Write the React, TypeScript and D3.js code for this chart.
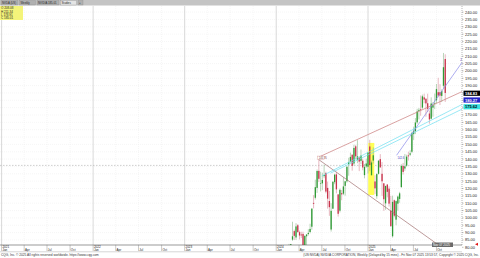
import React from "react";
import * as d3 from "d3";

// Weekly OHLC (week start Monday)
const weeks = [
  "2024-02-05","2024-02-12","2024-02-19","2024-02-26","2024-03-04","2024-03-11","2024-03-18","2024-03-25",
  "2024-04-01","2024-04-08","2024-04-15","2024-04-22","2024-04-29","2024-05-06","2024-05-13","2024-05-20",
  "2024-05-27","2024-06-03","2024-06-10","2024-06-17","2024-06-24","2024-07-01","2024-07-08","2024-07-15",
  "2024-07-22","2024-07-29","2024-08-05","2024-08-12","2024-08-19","2024-08-26","2024-09-02","2024-09-09",
  "2024-09-16","2024-09-23","2024-09-30","2024-10-07","2024-10-14","2024-10-21","2024-10-28","2024-11-04",
  "2024-11-11","2024-11-18","2024-11-25","2024-12-02","2024-12-09","2024-12-16","2024-12-23","2024-12-30",
  "2025-01-06","2025-01-13","2025-01-20","2025-01-27","2025-02-03","2025-02-10","2025-02-17","2025-02-24",
  "2025-03-03","2025-03-10","2025-03-17","2025-03-24","2025-03-31","2025-04-07","2025-04-14","2025-04-21",
  "2025-04-28","2025-05-05","2025-05-12","2025-05-19","2025-05-26","2025-06-02","2025-06-09","2025-06-16",
  "2025-06-23","2025-06-30","2025-07-07","2025-07-14","2025-07-21","2025-07-28","2025-08-04","2025-08-11",
  "2025-08-18","2025-08-25","2025-09-01","2025-09-08","2025-09-15","2025-09-22","2025-09-29","2025-10-06",
  "2025-10-13","2025-10-20","2025-10-27","2025-11-03"
];
const opens = [68.2,72.6,71.9,79.7,85.2,91.0,86.7,95.0,90.3,88.7,89.1,78.1,87.5,89.0,90.4,94.0,110.2,113.7,120.4,132.0,123.2,123.5,128.4,130.6,120.4,111.5,92.1,106.3,124.3,129.6,116.0,104.9,116.8,116.5,121.8,124.9,136.5,138.1,143.0,137.0,148.7,139.5,141.0,138.8,138.9,129.1,135.0,134.8,148.6,129.0,139.0,124.8,114.8,130.0,140.0,130.0,123.5,109.9,122.7,119.9,105.0,87.5,112.0,98.8,109.7,112.9,121.0,135.3,133.6,135.5,142.5,143.0,145.0,157.0,159.0,165.0,172.8,174.0,175.0,182.0,181.0,178.0,171.0,167.5,175.0,178.2,180.0,185.5,185.5,183.0,189.9,208.1];
const highs = [72.1,74.0,82.3,82.3,97.4,92.0,96.4,95.8,91.3,90.6,90.6,88.3,89.0,92.3,96.0,106.5,115.5,126.0,132.9,140.8,131.4,130.7,136.2,131.4,124.7,118.3,110.0,124.9,130.0,131.3,116.0,120.0,119.0,127.7,125.0,135.0,140.9,144.4,143.1,149.8,149.7,152.9,141.6,146.5,140.3,136.7,140.3,144.9,153.1,139.0,148.0,129.0,130.4,139.3,143.4,138.0,123.7,122.0,122.9,121.5,115.0,115.1,112.5,111.9,115.2,117.7,136.5,137.4,143.5,143.0,145.0,146.0,158.7,162.0,167.9,174.2,174.8,183.3,183.9,184.5,181.5,184.5,173.0,182.0,178.9,184.6,191.1,195.3,191.0,187.5,212.2,211.3];
const lows = [68.2,70.5,66.2,77.2,84.4,85.0,85.0,89.8,85.3,86.3,75.6,77.0,81.2,88.0,89.5,92.0,106.5,112.5,117.0,124.4,118.0,118.9,127.0,116.7,106.3,101.4,90.7,106.0,122.9,116.7,100.9,103.7,112.0,115.5,115.1,124.0,128.7,137.5,132.1,135.6,139.8,137.2,131.8,136.6,132.4,126.9,134.0,130.2,131.8,129.0,137.0,116.3,113.0,129.5,134.0,115.0,104.8,105.5,114.0,107.7,94.3,86.6,100.5,95.0,104.9,110.3,120.3,129.5,132.0,134.8,139.0,142.0,144.0,153.0,157.0,164.0,167.0,169.5,174.0,178.0,168.8,172.0,164.1,167.0,168.8,174.0,178.0,182.0,176.8,178.8,188.0,178.9];
const closes = [72.1,72.6,78.9,82.2,87.5,87.8,94.2,90.4,88.0,88.1,76.2,87.7,88.7,89.8,92.5,106.3,109.6,120.9,131.9,126.6,123.5,125.8,129.2,117.9,113.1,107.3,104.8,124.6,129.4,119.4,102.8,119.1,116.0,121.4,124.9,134.8,138.0,141.5,135.4,147.6,141.9,141.9,138.3,142.4,134.3,134.7,137.0,144.5,135.9,137.7,142.6,120.1,129.8,138.9,134.4,124.9,112.7,121.7,117.7,109.7,94.3,110.9,101.5,111.4,114.5,116.7,135.4,131.3,135.1,141.7,141.9,143.9,157.8,159.3,164.9,172.4,173.5,173.7,182.7,180.5,177.9,174.2,167.0,177.8,176.7,178.2,187.6,183.2,183.2,186.3,202.5,185.0];

const priceTicks = d3.range(240, 79, -5);
const quarterLabels = ["Jan", "Apr", "Jul", "Oct"];

// trendlines: [date, price] pairs
const redUpper = [["2024-06-19", 141.4], ["2026-01-16", 186.3]];
const redLower = [["2024-06-19", 139.6], ["2025-10-22", 80.0]];
const cyanA = [["2024-07-01", 128.5], ["2026-01-16", 177.6]];
const cyanB = [["2024-08-05", 130.5], ["2026-01-16", 174.4]];
const blueLine = [["2025-04-25", 142.6], ["2026-01-16", 207.0]];
const highlight = [["2025-01-02", 151.0], ["2025-01-26", 115.6]];
const dashedLevel = 135.7;

const ohlcBox = ["O 208.08", "H 211.34", "L 178.91", "C 185.01"];
const axisFlags = [
  { v: 184.8, text: "184.83", bg: "#000000", fg: "#ffffff" },
  { v: 180.2, text: "180.27", bg: "#2424c8", fg: "#ffffff" },
  { v: 175.6, text: "175.62", bg: "#38e0e0", fg: "#000000" },
];
const tabs = ["NVDA (US)", "Weekly", "NVIDIA 185.01", "Studies", "+"];

export default function App() {
  const W = 480, H = 258;
  const left = 0, right = 462, top = 6, bottom = 245;
  const y = d3.scaleLinear().domain([80, 240]).range([247.3, 12.1]);
  const x = d3.scaleTime()
    .domain([new Date("2021-01-01"), new Date("2025-01-01")])
    .range([1.6, 368]);
  const pd = (s: string) => new Date(s);
  const mid = (s: string) => d3.timeDay.offset(pd(s), 2);
  const font = "'Liberation Sans', Arial, sans-serif";

  const quarters: Date[] = [];
  for (let yr = 2021; yr <= 2025; yr++) for (let m = 0; m < 12; m += 3) quarters.push(new Date(yr, m, 1));

  const line = (pts: any[]) => {
    const [a, b] = pts;
    return { x1: x(pd(a[0])), y1: y(a[1]), x2: x(pd(b[0])), y2: y(b[1]) };
  };

  const tabW = [17, 16, 22, 16, 5];

  return (
    <svg width={W} height={H} style={{ position: "absolute", left: 0, top: 0, background: "#fff" }} fontFamily={font}>
      <defs>
        <clipPath id="plot"><rect x={left} y={top} width={right - left} height={bottom - top} /></clipPath>
      </defs>
      <rect x={0} y={0} width={W} height={H} fill="#fff" />
      {/* top tab bar */}
      <rect x={0} y={0} width={W} height={5.5} fill="#c4c4c4" />
      {tabs.map((t, i) => {
        const cx = 1 + tabW.slice(0, i).reduce((a, b) => a + b + 1.5, 0);
        return (
          <g key={i}>
            <rect x={cx} y={0.5} width={tabW[i]} height={4.5} fill={i === 3 ? "#e4e4e4" : "#b0b0b0"} stroke="#888" strokeWidth={0.3} />
            <text x={cx + 1} y={3.9} fontSize={2.8} fill="#222">{t}</text>
          </g>
        );
      })}

      {/* grid */}
      <g clipPath="url(#plot)">
        {priceTicks.map((v) => (
          <line key={v} x1={left} x2={right} y1={y(v)} y2={y(v)} stroke="#ececec" strokeWidth={0.5} strokeDasharray="1,1" />
        ))}
        {quarters.map((d, i) => (
          <line key={i} x1={x(d)} x2={x(d)} y1={top} y2={bottom} stroke={d.getMonth() === 0 ? "#c8c8c8" : "#ededed"} strokeWidth={d.getMonth() === 0 ? 0.7 : 0.5} strokeDasharray={d.getMonth() === 0 ? "" : "1,1"} />
        ))}
        <line x1={left} x2={right} y1={y(dashedLevel)} y2={y(dashedLevel)} stroke="#b0b0b0" strokeWidth={0.6} strokeDasharray="1.5,1.5" />

        {/* yellow highlight */}
        <rect x={x(pd(highlight[0][0] as string))} y={y(highlight[0][1] as number)}
          width={x(pd(highlight[1][0] as string)) - x(pd(highlight[0][0] as string))}
          height={y(highlight[1][1] as number) - y(highlight[0][1] as number)} fill="#ffff55" />

        {/* candles */}
        {weeks.map((w, i) => {
          const cx = x(mid(w));
          const up = closes[i] >= opens[i];
          const col = up ? "#2f9a35" : "#c8324a";
          const yt = y(Math.max(opens[i], closes[i]));
          const yb = y(Math.min(opens[i], closes[i]));
          return (
            <g key={w}>
              <line x1={cx} x2={cx} y1={y(highs[i])} y2={y(lows[i])} stroke={up ? "#8ab88a" : "#d88a98"} strokeWidth={0.6} />
              <rect x={cx - 0.65} width={1.3} y={yt} height={Math.max(0.6, yb - yt)} fill={col} />
            </g>
          );
        })}

        {/* trendlines */}
        <line {...line(redUpper)} stroke="#c87a7a" strokeWidth={0.7} />
        <line {...line(redLower)} stroke="#a07070" strokeWidth={0.7} />
        <line {...line(cyanA)} stroke="#6fe0f0" strokeWidth={0.7} />
        <line {...line(cyanB)} stroke="#6fe0f0" strokeWidth={0.7} />
        <line {...line(blueLine)} stroke="#8a8aea" strokeWidth={0.7} />
        {/* small labels on lines */}
        <rect x={x(pd(redUpper[0][0] as string)) - 1} y={y(redUpper[0][1] as number) - 1} width={7} height={3.2} fill="#fff" stroke="#c87a7a" strokeWidth={0.3} />
        <text x={x(pd(redUpper[0][0] as string))} y={y(redUpper[0][1] as number) + 1.6} fontSize={2.6} fill="#804040">140.76</text>
        <text x={x(pd(blueLine[0][0] as string)) + 1} y={y(blueLine[0][1] as number) + 4} fontSize={2.6} fill="#3030c0">142.6</text>
        <text x={x(pd(blueLine[1][0] as string)) - 3} y={y(blueLine[1][1] as number)} fontSize={2.6} fill="#3030c0">207.0</text>
      </g>

      {/* top-left ohlc box */}
      <rect x={0} y={6} width={23} height={14} fill="#f4f47a" />
      {ohlcBox.map((t, i) => (
        <text key={i} x={1} y={9.3 + i * 3.3} fontSize={3} fill="#222">{t}</text>
      ))}

      {/* plot border */}
      <line x1={left} x2={right} y1={bottom} y2={bottom} stroke="#555" strokeWidth={0.6} />
      <line x1={right} x2={right} y1={top} y2={bottom} stroke="#888" strokeWidth={0.6} strokeDasharray="1,1" />

      {/* right axis */}
      {priceTicks.map((v) => (
        <g key={v}>
          <line x1={right} x2={right + 1.5} y1={y(v)} y2={y(v)} stroke="#666" strokeWidth={0.4} />
          <text x={right + 3} y={y(v) + 1.4} fontSize={4} fill="#222">{v.toFixed(2)}</text>
        </g>
      ))}
      {axisFlags.map((f, i) => (
        <g key={i}>
          <rect x={right + 1.5} y={y(f.v) - 2.6} width={W - right - 1.5} height={5.2} fill={f.bg} />
          <text x={right + 3} y={y(f.v) + 1.5} fontSize={4} fill={f.fg} fontWeight="bold">{f.text}</text>
        </g>
      ))}
      <path d={`M${W - 5},${y(82)} l3,-1.5 l0,3 z`} fill="#e01818" />

      {/* date axis */}
      {quarters.map((d, i) => (
        <g key={i}>
          <line x1={x(d)} x2={x(d)} y1={bottom} y2={bottom + 6} stroke="#777" strokeWidth={0.4} />
          {d.getMonth() === 0 && (
            <text x={x(d) + 0.8} y={bottom + 3} fontSize={3} fill="#222">{d.getFullYear()}</text>
          )}
          <text x={x(d) + 0.8} y={bottom + 6.3} fontSize={3} fill="#222">{quarterLabels[d.getMonth() / 3]}</text>
        </g>
      ))}
      <line x1={left} x2={right} y1={bottom + 6.8} y2={bottom + 6.8} stroke="#999" strokeWidth={0.4} />
      <rect x={432} y={bottom - 2.5} width={21} height={4.5} fill="#6a6a6a" />
      <text x={433} y={bottom + 0.8} fontSize={3} fill="#fff">Nov 07 2025</text>

      {/* footer */}
      <text x={1} y={256} fontSize={3.2} fill="#333">CQG, Inc. © 2025 All rights reserved worldwide. https://www.cqg.com</text>
      <text x={W - 1} y={256} fontSize={3.2} fill="#333" textAnchor="end">(US:NVDA) NVIDIA CORPORATION, Weekly (Delayed by 15 mins) - Fri Nov 07 2025 13:53:57, Copyright © 2025 CQG, Inc.</text>
    </svg>
  );
}
